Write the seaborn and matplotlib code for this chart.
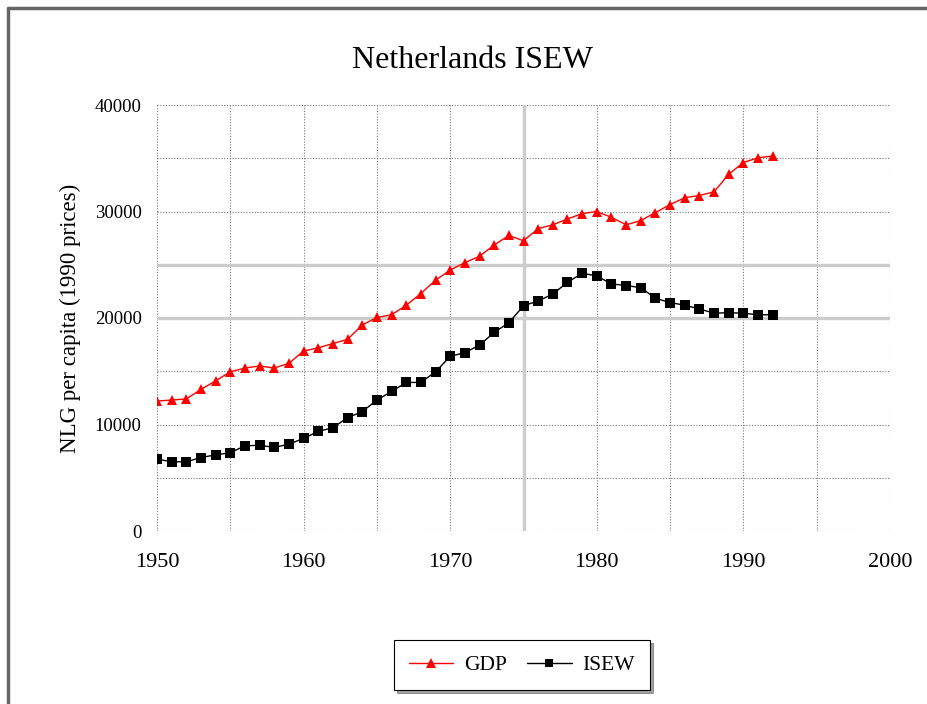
import matplotlib
matplotlib.use("Agg")
import matplotlib.pyplot as plt
import seaborn as sns
import pandas as pd
import numpy as np
from matplotlib.lines import Line2D

years = list(range(1950, 1993))
gdp = [12200, 12300, 12400, 13300, 14100, 14950, 15300, 15500, 15300, 15750,
       16900, 17200, 17600, 18000, 19350, 20050, 20300, 21200, 22300, 23550,
       24500, 25200, 25800, 26850, 27750, 27250, 28400, 28750, 29300, 29800,
       30000, 29450, 28750, 29150, 29900, 30650, 31300, 31500, 31850, 33500,
       34600, 35050, 35200]
isew = [6750, 6500, 6500, 6900, 7150, 7350, 8000, 8050, 7850, 8150,
        8700, 9350, 9700, 10650, 11200, 12300, 13100, 13950, 13950, 14950,
        16400, 16750, 17450, 18650, 19550, 21150, 21600, 22250, 23350, 24200,
        23950, 23200, 23050, 22850, 21850, 21450, 21200, 20850, 20450, 20500,
        20450, 20300, 20300]

title = "Netherlands ISEW"
ylabel = "NLG per capita (1990 prices)"
series_names = ["GDP", "ISEW"]

df = pd.DataFrame({"Year": years * 2,
                   "Value": gdp + isew,
                   "Series": [series_names[0]] * len(years) + [series_names[1]] * len(years)})

sns.set_style("white")
plt.rcParams['font.family'] = ['Liberation Serif', 'DejaVu Serif']
plt.rcParams['text.color'] = 'black'
plt.rcParams['axes.labelcolor'] = 'black'
plt.rcParams['xtick.color'] = 'black'
plt.rcParams['ytick.color'] = 'black'

fig = plt.figure(figsize=(9.28, 7.04), dpi=100)
ax = fig.add_axes([157/928, 1 - 531/704, (890 - 157)/928, (531 - 105)/704])

palette = {"GDP": "#ff0000", "ISEW": "#000000"}
markers = {"GDP": "^", "ISEW": "s"}
sns.lineplot(data=df, x="Year", y="Value", hue="Series", style="Series",
             palette=palette, markers=markers, dashes=False, linewidth=1.0,
             markersize=6.5, markeredgewidth=0, ax=ax, legend=False)

ax.set_xlim(1950, 2000)
ax.set_ylim(0, 40000)
ax.set_xticks(np.arange(1950, 2001, 10))
ax.set_xticks(np.arange(1955, 2000, 10), minor=True)
ax.set_yticks(np.arange(0, 40001, 10000))
ax.set_yticks(np.arange(5000, 40000, 10000), minor=True)
ax.set_xticklabels([str(v) for v in range(1950, 2001, 10)])
ax.set_yticklabels([str(v) for v in range(0, 40001, 10000)])
ax.tick_params(axis="both", which="both", direction="out", length=4, width=0.8,
               color="#888888")
ax.tick_params(axis="y", labelsize=13.5, pad=7)
ax.tick_params(axis="x", labelsize=16, pad=12)

ax.grid(True, which="both", color="#777777", linestyle=(0, (1, 1.5)), linewidth=0.8)
# light solid gridlines seen in the reference
for yv in (20000, 25000):
    ax.axhline(yv, color="#cccccc", linewidth=2.4, zorder=1.5)
ax.axvline(1975, color="#cccccc", linewidth=2.4, zorder=1.5)
for s in ax.spines.values():
    s.set_visible(False)
ax.set_axisbelow(True)

ax.set_xlabel("")
ax.set_ylabel(ylabel, fontsize=16.5, labelpad=10)
fig.text(473/928, 1 - 60/704, title, ha="center", va="center", fontsize=23)

handles = [Line2D([0], [0], color="#ff0000", marker="^", markersize=6.5, markeredgewidth=0, lw=1),
           Line2D([0], [0], color="#000000", marker="s", markersize=5.5, markeredgewidth=0, lw=1)]
leg = fig.legend(handles, series_names, loc="center", bbox_to_anchor=(522/928, 1 - 665/704),
                 ncol=2, frameon=True, fancybox=False, shadow=True, fontsize=15.5,
                 handlelength=2.05, columnspacing=0.95, borderpad=0.7, handletextpad=0.5)
leg.get_frame().set_edgecolor("#000000")
leg.get_frame().set_linewidth(0.8)

# figure border (top and left visible)
fig.add_artist(Line2D([8/928, 8/928], [0, 1 - 8/704], color="#666666", lw=2.5, transform=fig.transFigure))
fig.add_artist(Line2D([8/928, 1], [1 - 8/704, 1 - 8/704], color="#666666", lw=2.5, transform=fig.transFigure))

fig.savefig("out.png", dpi=100)
